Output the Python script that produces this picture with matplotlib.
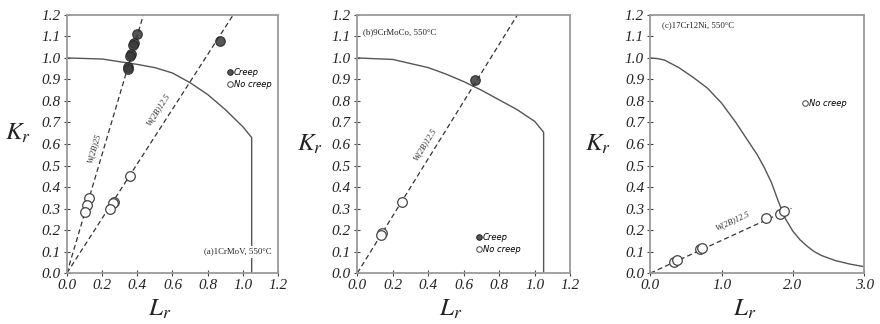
import numpy as np
import matplotlib
matplotlib.use("Agg")
import matplotlib.pyplot as plt
from matplotlib.lines import Line2D

plt.rcParams['mathtext.fontset'] = 'stix'
plt.rcParams['font.family'] = 'Liberation Serif'

# failure assessment curves
fad_a_lr = [0.0, 0.2, 0.4, 0.5, 0.6, 0.7, 0.8, 0.9, 1.0, 1.05, 1.05]
fad_a_kr = [1.0, 0.995, 0.97, 0.955, 0.93, 0.885, 0.83, 0.76, 0.68, 0.63, 0.0]
fad_b_lr = [0.0, 0.2, 0.4, 0.5, 0.6, 0.7, 0.8, 0.9, 1.0, 1.05, 1.05]
fad_b_kr = [1.0, 0.993, 0.955, 0.925, 0.89, 0.85, 0.805, 0.76, 0.705, 0.655, 0.0]
fad_c_lr = [0.0, 0.1, 0.2, 0.4, 0.6, 0.8, 1.0, 1.2, 1.4, 1.5, 1.6, 1.7, 1.8, 1.9, 2.0,
            2.1, 2.2, 2.3, 2.4, 2.6, 2.8, 3.0]
fad_c_kr = [1.0, 0.997, 0.99, 0.955, 0.91, 0.86, 0.79, 0.70, 0.60, 0.55, 0.49, 0.42, 0.33,
            0.25, 0.195, 0.155, 0.125, 0.10, 0.082, 0.058, 0.042, 0.03]

# loading lines (slope Kr/Lr)
slopes_a = [2.76, 1.27]
labels_a = ['W(2B)25', 'W(2B)12.5']
slopes_b = [1.33]
slope_c = 0.152
line_c_end = 1.98

# test points
creep_a_lr = [0.40, 0.38, 0.375, 0.365, 0.36, 0.345, 0.35, 0.87]
creep_a_kr = [1.11, 1.07, 1.06, 1.02, 1.01, 0.96, 0.95, 1.08]
nocreep_a_lr = [0.127, 0.116, 0.104, 0.269, 0.26, 0.245, 0.358]
nocreep_a_kr = [0.347, 0.316, 0.285, 0.332, 0.324, 0.298, 0.451]
creep_b_lr = [0.665]
creep_b_kr = [0.898]
nocreep_b_lr = [0.139, 0.134, 0.252]
nocreep_b_kr = [0.185, 0.175, 0.332]
nocreep_c_lr = [0.33, 0.37, 0.70, 0.72, 1.62, 1.82, 1.87]
nocreep_c_kr = [0.05, 0.06, 0.11, 0.115, 0.255, 0.275, 0.29]

fig = plt.figure(figsize=(8.8, 3.24), dpi=100)
axa = fig.add_axes([0.076, 0.157, 0.240, 0.797])
axb = fig.add_axes([0.406, 0.157, 0.242, 0.797])
axc = fig.add_axes([0.739, 0.157, 0.243, 0.797])

LINE = '#555555'
DASH = dict(color='#333333', lw=0.9, ls=(0, (4, 2.5)))
CREEP = dict(marker='o', s=48, facecolor='#3a3a3a', edgecolor='#222222', linewidth=0.8, alpha=0.85, zorder=4)
NOCREEP = dict(marker='o', s=48, facecolor='white', edgecolor='#444444', linewidth=0.9, zorder=4)


def style_axes(ax, xmax, xticks, xfmt, ylab_xy, xlab_xy):
    ax.set_xlim(0, xmax)
    ax.set_ylim(0, 1.2)
    ax.set_xticks(xticks)
    ax.set_yticks(np.arange(0, 1.21, 0.1))
    ax.set_xticklabels([xfmt.format(t) for t in xticks])
    ax.set_yticklabels(['{:.1f}'.format(t) for t in np.arange(0, 1.21, 0.1)])
    for s in ax.spines.values():
        s.set_color('#9a9a9a')
        s.set_linewidth(1.3)
    ax.tick_params(direction='inout', length=5, width=0.8, color='#444444',
                   labelsize=11, pad=2)
    for lab in ax.get_xticklabels() + ax.get_yticklabels():
        lab.set_fontstyle('italic')
        lab.set_color('#222222')
    ax.set_ylabel('$K_r$', fontsize=18, rotation=0, color='#222222', va='center')
    ax.yaxis.set_label_coords(*ylab_xy)
    ax.set_xlabel('$L_r$', fontsize=18, color='#222222', va='center')
    ax.xaxis.set_label_coords(*xlab_xy)


def line_label(ax, x, y, slope, text):
    p0 = ax.transData.transform((0, 0))
    p1 = ax.transData.transform((1, slope))
    ang = np.degrees(np.arctan2(p1[1] - p0[1], p1[0] - p0[0]))
    ax.text(x, y, text, rotation=ang, rotation_mode='anchor', ha='center', va='center',
            fontsize=6, fontstyle='italic', color='#333333')


def add_legend(ax, anchor, creep=True):
    handles = []
    if creep:
        handles.append(Line2D([], [], ls='none', marker='o', ms=4, mfc='#555555', mec='#222222',
                              mew=0.7, label='Creep'))
    handles.append(Line2D([], [], ls='none', marker='o', ms=4, mfc='white', mec='#444444',
                          mew=0.7, label='No creep'))
    ax.legend(handles=handles, loc='upper left', bbox_to_anchor=anchor, frameon=False,
              handlelength=0.6, handletextpad=0.2, labelspacing=0.3, borderpad=0,
              prop=dict(family='DejaVu Sans', style='italic', size=6))


# (a) 1CrMoV
style_axes(axa, 1.2, np.arange(0, 1.21, 0.2), '{:.1f}', (-0.232, 0.54), (0.44, -0.14))
axa.plot(fad_a_lr, fad_a_kr, color=LINE, lw=1.0)
for k in slopes_a:
    axa.plot([0, 1.2 / k], [0, 1.2], **DASH)
line_label(axa, 0.155, 0.58, slopes_a[0], labels_a[0])
line_label(axa, 0.52, 0.76, slopes_a[1], labels_a[1])
axa.scatter(creep_a_lr, creep_a_kr, **CREEP)
axa.scatter(nocreep_a_lr, nocreep_a_kr, **NOCREEP)
axa.text(0.97, 0.10, '(a)1CrMoV, 550\u00b0C', ha='center', va='center', fontsize=6.3,
         color='#222222', bbox=dict(facecolor='white', edgecolor='none', pad=1.5), zorder=5)
add_legend(axa, (0.74, 0.81))

# (b) 9CrMoCo
style_axes(axb, 1.2, np.arange(0, 1.21, 0.2), '{:.1f}', (-0.22, 0.50), (0.44, -0.14))
axb.plot(fad_b_lr, fad_b_kr, color=LINE, lw=1.0)
for k in slopes_b:
    axb.plot([0, 1.2 / k], [0, 1.2], **DASH)
line_label(axb, 0.38, 0.60, slopes_b[0], 'W(2B)12.5')
axb.scatter(creep_b_lr, creep_b_kr, **CREEP)
axb.scatter(nocreep_b_lr, nocreep_b_kr, **NOCREEP)
axb.text(0.03, 1.12, '(b)9CrMoCo, 550\u00b0C', ha='left', va='center', fontsize=6.3, color='#222222')
add_legend(axb, (0.54, 0.17))

# (c) 17Cr12Ni
style_axes(axc, 3.0, [0.0, 1.0, 2.0, 3.0], '{:.1f}', (-0.243, 0.50), (0.44, -0.14))
axc.plot(fad_c_lr, fad_c_kr, color=LINE, lw=1.0)
axc.plot([0, line_c_end], [0, slope_c * line_c_end], **DASH)
line_label(axc, 1.15, 0.245, slope_c, 'W(2B)12.5')
axc.scatter(nocreep_c_lr, nocreep_c_kr, **NOCREEP)
axc.text(0.16, 1.15, '(c)17Cr12Ni, 550\u00b0C', ha='left', va='center', fontsize=6.3, color='#222222')
add_legend(axc, (0.69, 0.69), creep=False)

fig.savefig('out.png', dpi=100)
